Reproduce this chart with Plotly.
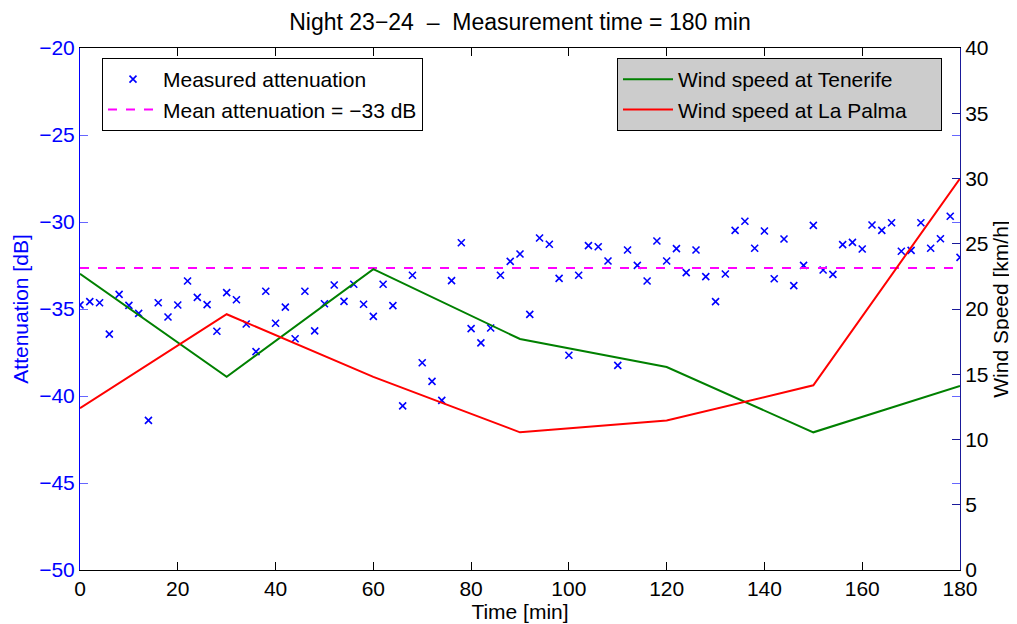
import plotly.graph_objects as go

# ---- data ----
time_min = list(range(0, 181, 2))
attenuation_db = [
    -34.77, -34.58, -34.64, -36.44, -34.16, -34.79, -35.25, -41.40, -34.64, -35.46,
    -34.77, -33.39, -34.33, -34.75, -36.28, -34.06, -34.47, -35.86, -37.45, -33.98,
    -35.82, -34.89, -36.71, -33.98, -36.26, -34.70, -33.62, -34.56, -33.58, -34.73,
    -35.42, -33.58, -34.81, -40.57, -33.06, -38.09, -39.16, -40.25, -33.37, -31.19,
    -36.13, -36.95, -36.09, -33.06, -32.26, -31.84, -35.31, -30.92, -31.28, -33.24,
    -37.66, -33.06, -31.36, -31.42, -32.24, -38.24, -31.61, -32.49, -33.39, -31.09,
    -32.24, -31.53, -32.91, -31.61, -33.14, -34.58, -32.99, -30.48, -29.96, -31.51,
    -30.52, -33.26, -30.98, -33.66, -32.49, -30.19, -32.76, -33.01, -31.30, -31.17,
    -31.55, -30.17, -30.48, -30.04, -31.68, -31.63, -30.04, -31.51, -30.96, -29.67,
    -32.03,
]
mean_attenuation = -32.65
mean_x = [0, 180]

wind_time = [0, 30, 60, 90, 120, 150, 180]
wind_tenerife = [22.7, 14.8, 23.05, 17.7, 15.55, 10.55, 14.1]
wind_lapalma = [12.4, 19.6, 14.8, 10.55, 11.45, 14.15, 30.0]

x_ticks = list(range(0, 181, 20))
left_ticks = [-50, -45, -40, -35, -30, -25, -20]
right_ticks = list(range(0, 41, 5))

title = "Night 23\u221224  \u2013  Measurement time = 180 min"

def minus(v):
    return str(v).replace("-", "\u2212")

FONT = "Liberation Sans, Arial, Helvetica, sans-serif"
BLUE = "#0000ff"
FS = 21
PADR = "\u00a0" * 5  # extra right padding inside the grey legend box

# page body has an 8px margin: figure drawn at (8, 8)
W, H = 1009, 616
L, T = 72, 40
PW, PH = 880, 522

fig = go.Figure()
fig.add_trace(go.Scatter(
    x=time_min, y=attenuation_db, mode="markers", name="Measured attenuation",
    marker=dict(symbol="x-thin", size=7, line=dict(color=BLUE, width=1.6), color=BLUE),
    legend="legend", yaxis="y",
))
fig.add_trace(go.Scatter(
    x=mean_x, y=[mean_attenuation, mean_attenuation], mode="lines",
    name="Mean attenuation = \u221233 dB",
    line=dict(color="#ff00ff", width=2, dash="dash"),
    legend="legend", yaxis="y",
))
fig.add_trace(go.Scatter(
    x=wind_time, y=wind_tenerife, mode="lines", name="Wind speed at Tenerife" + PADR,
    line=dict(color="#008000", width=2), legend="legend2", yaxis="y2",
))
fig.add_trace(go.Scatter(
    x=wind_time, y=wind_lapalma, mode="lines", name="Wind speed at La Palma" + PADR,
    line=dict(color="#ff0000", width=2), legend="legend2", yaxis="y2",
))

fig.update_layout(
    width=W, height=H,
    margin=dict(l=L, r=W - L - PW, t=T, b=H - T - PH, pad=0, autoexpand=False),
    paper_bgcolor="white", plot_bgcolor="white",
    font=dict(family=FONT, size=FS, color="black"),
    title=dict(text=title, x=(L + PW / 2) / W, xanchor="center",
               yref="container", y=1 - 14 / H, yanchor="middle",
               font=dict(size=23)),
    showlegend=True,
    xaxis=dict(
        range=[0, 180], tickvals=x_ticks, ticktext=[str(v) for v in x_ticks],
        showgrid=False, zeroline=False, showline=True, linecolor="black", linewidth=1,
        mirror="ticks", ticks="inside", ticklen=8, tickcolor="black", automargin=False,
        title=dict(text="Time [min]", standoff=0, font=dict(size=FS)),
        tickfont=dict(size=FS),
    ),
    yaxis=dict(
        range=[-50, -20], tickvals=left_ticks, ticktext=[minus(v) for v in left_ticks],
        showgrid=False, zeroline=False, showline=True, linecolor=BLUE, linewidth=1,
        mirror="ticks", ticks="inside", ticklen=8, tickcolor="#6666ff", automargin=False,
        tickfont=dict(size=FS, color=BLUE),
        title=dict(text="Attenuation [dB]", font=dict(size=FS, color=BLUE), standoff=4),
    ),
    yaxis2=dict(
        range=[0, 40], tickvals=right_ticks, ticktext=[str(v) for v in right_ticks],
        overlaying="y", side="right", anchor="x",
        showgrid=False, zeroline=False, showline=True, linecolor="#1a1a9a", linewidth=1,
        ticks="inside", ticklen=8, tickcolor="#1a1a9a", automargin=False,
        tickfont=dict(size=FS, color="black"),
        title=dict(text="Wind Speed [km/h]", font=dict(size=FS, color="black"), standoff=2),
    ),
    legend=dict(
        x=(102 - 80) / PW, y=(570 - 58) / PH, xanchor="left", yanchor="top",
        bgcolor="white", bordercolor="black", borderwidth=1,
        font=dict(size=FS), tracegroupgap=0, itemwidth=50,
    ),
    legend2=dict(
        x=(942 - 80) / PW, y=(570 - 58) / PH, xanchor="right", yanchor="top",
        bgcolor="#cccccc", bordercolor="black", borderwidth=1,
        font=dict(size=FS), tracegroupgap=0, itemwidth=50,
    ),
)

fig.write_html("out.html")
